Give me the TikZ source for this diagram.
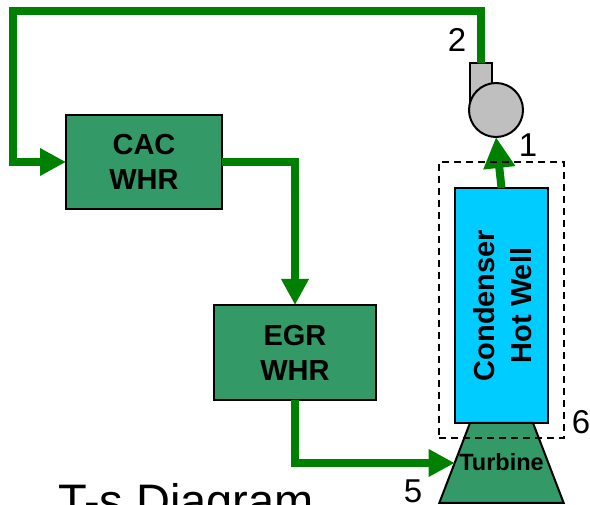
\documentclass[tikz,border=0pt]{standalone}
\usepackage{fontspec}
\setmainfont{Liberation Sans}
\usetikzlibrary{positioning,arrows.meta,shapes.geometric}
\definecolor{boxgreen}{HTML}{339966}

\begin{document}
\begin{tikzpicture}[x=1pt,y=-1pt,outer sep=0pt,
  pipe/.style={draw=green!50!black,line width=8pt,-{Triangle[length=26pt,width=26pt]}},
  block/.style={draw,line width=2pt,fill=boxgreen,align=center,font=\fontsize{29}{35}\selectfont\bfseries},
  num/.style={font=\fontsize{33}{33}\selectfont,inner sep=0pt}]
  \useasboundingbox (0,0) rectangle (590,505);
  \clip (0,0) rectangle (590,505);
  \node (cac) [block,minimum width=156pt,minimum height=94pt] at (144,162) {CAC\\WHR};
  \node (egr) [block,minimum width=162pt,minimum height=95pt,below right=96pt and -8pt of cac.south east] {EGR\\WHR};
  \node (condenser) [block,fill={rgb,255:red,0;green,204;blue,255},minimum width=93pt,minimum height=235pt,font=\fontsize{29}{37}\selectfont\bfseries] at (501.5,305.5) {\hspace*{8pt}\rotatebox{90}{\begin{tabular}{c}Condenser\\Hot Well\end{tabular}}};
  \node (turbine) [draw,line width=2pt,fill=boxgreen,trapezium,trapezium left angle=69,trapezium right angle=69,inner xsep=0pt,inner ysep=32pt,text height=16pt,text depth=0pt,font=\fontsize{23.5}{24}\selectfont\bfseries,below=0pt of condenser] {\makebox[63pt]{Turbine}};
  \node (outlet) [draw,line width=2pt,fill=black!25,minimum width=22pt,minimum height=42pt] at (481,84) {};
  \node (pump) [draw,line width=2pt,fill=black!25,circle,minimum size=54pt,inner sep=0pt] at (496,110) {};
  \coordinate (corner) at (13,11);
  \draw[pipe] (outlet.north) |- (corner) |- (cac.west);
  \draw[pipe] (cac.east) -| (egr.north);
  \draw[pipe] (egr.south) |- (turbine.west);
  \draw[pipe,-{Triangle[length=31pt,width=30pt]}] (condenser.north) -- (pump.south);
  \node (box) [draw,dash pattern=on 7pt off 5pt,line width=1.5pt,minimum width=125pt,minimum height=276pt] at (501.5,300) {};
  \node (n2) [num] at (457,40) {2};
  \node (n1) [num] at (528,145) {1};
  \node (n6) [num] at (581,422) {6};
  \node (n5) [num] at (413,491) {5};
  \node (title) [font=\fontsize{47}{47}\selectfont,inner sep=0pt,anchor=base west] at (58,518) {T-s Diagram};
\end{tikzpicture}
\end{document}
